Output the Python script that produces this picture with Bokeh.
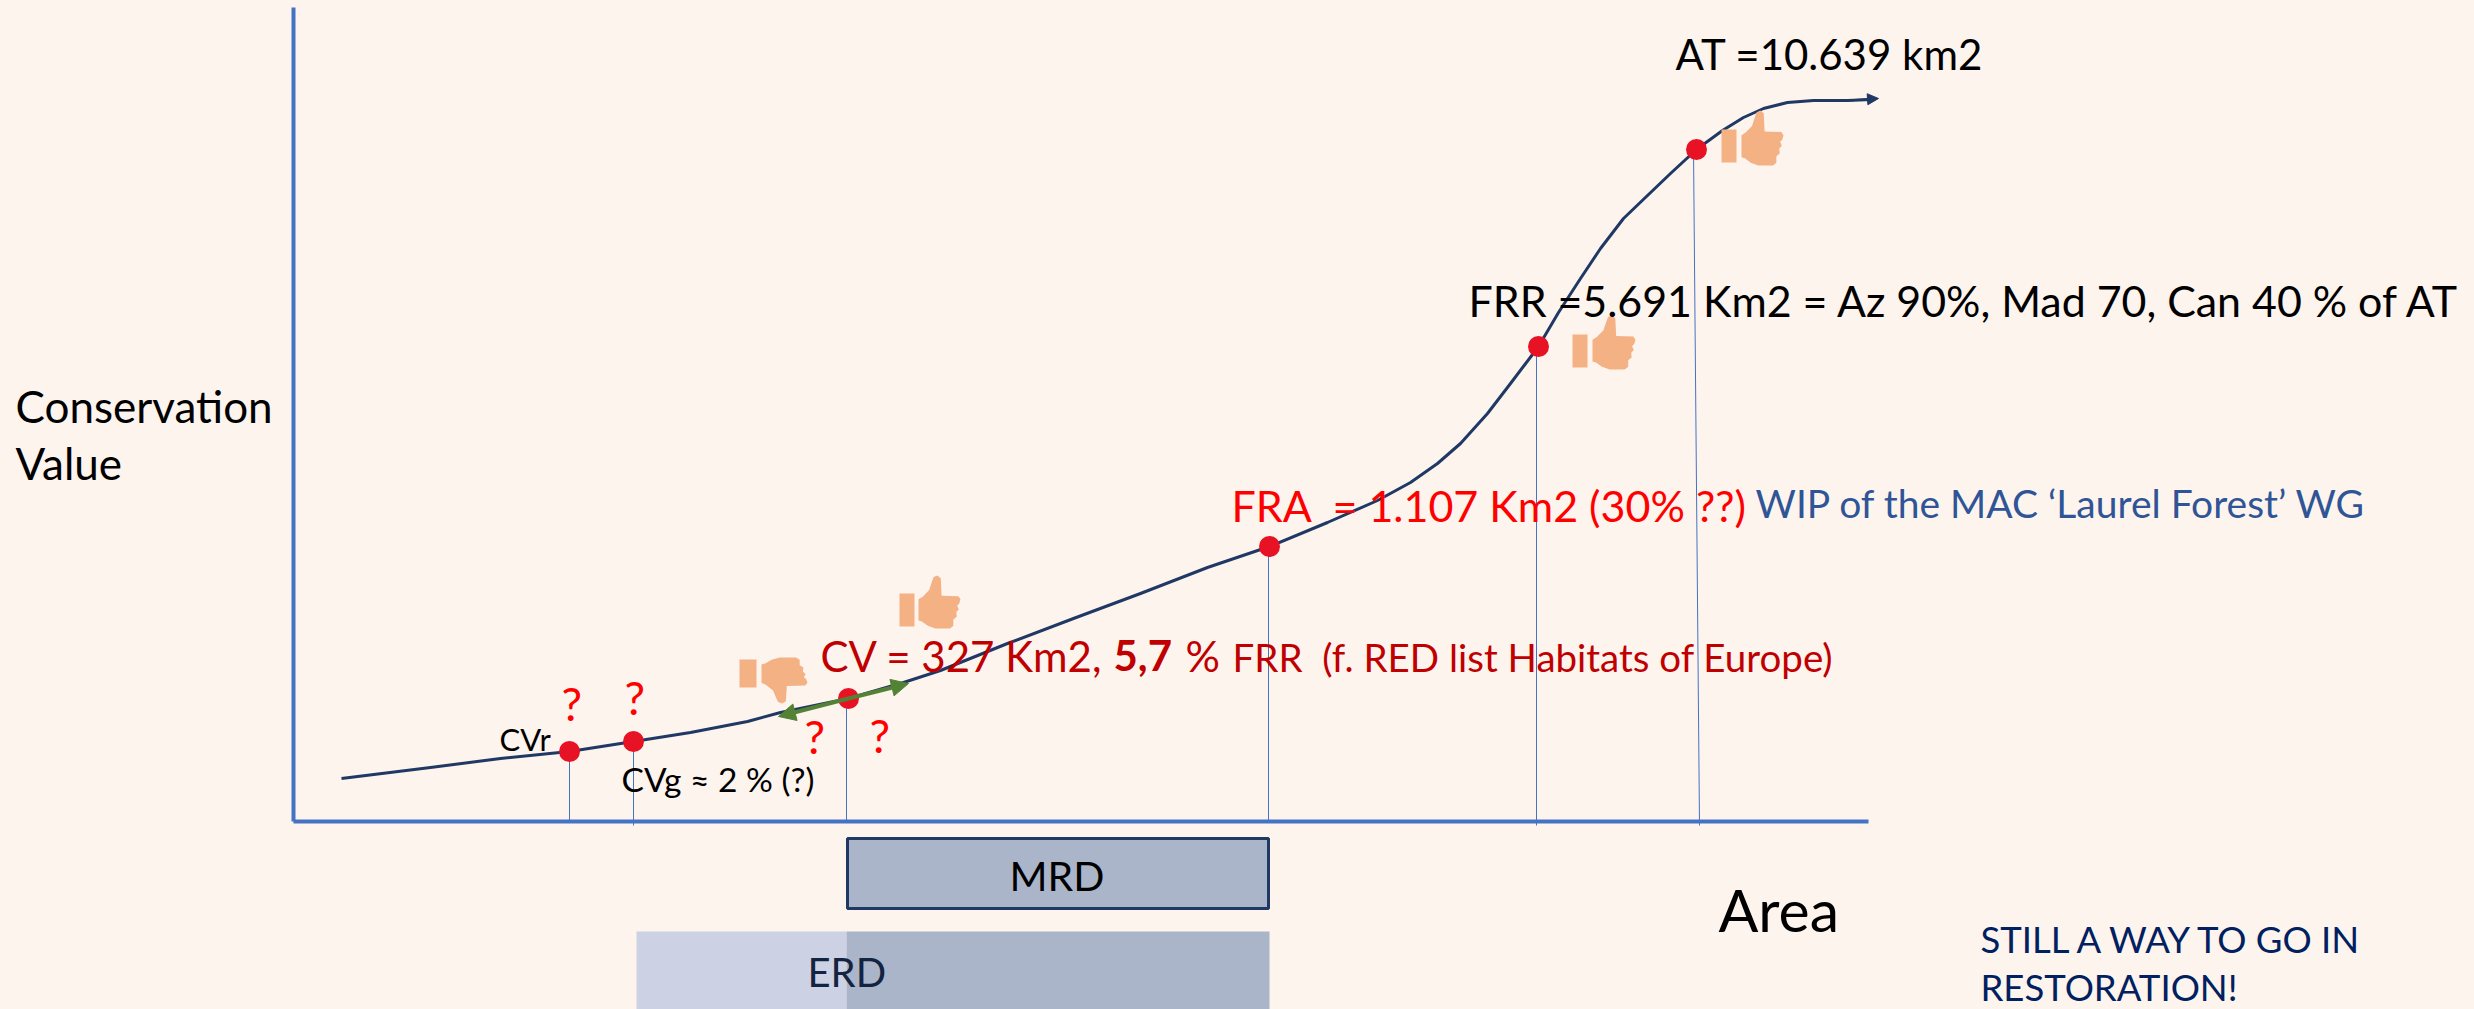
from bokeh.plotting import figure
from bokeh.models import Range1d, Arrow, NormalHead, FixedTicker
from bokeh.core.properties import value
from bokeh.embed import file_html
from bokeh.resources import INLINE

BG = "#FDF4EE"
W, H = 2474, 1009
X0, Y0 = 293, 821   # pixel of the axes origin

# schematic curve: area vs conservation value (arbitrary units)
curve_area = [48, 137, 207, 276, 340, 397, 454, 487, 555, 610, 647, 714, 780, 847, 914, 976, 1034, 1084, 1117, 1144,
              1167, 1194, 1217, 1245, 1265, 1287, 1307, 1330, 1354, 1377, 1403, 1429, 1450, 1470, 1494, 1520, 1554, 1578]
curve_value = [43, 54, 63, 70, 80, 89, 100, 109, 123, 139, 151, 178, 203, 228, 254, 275, 299, 321, 339, 358,
               378, 408, 438, 475, 509, 543, 573, 603, 626, 648, 672, 691, 704, 713, 719, 721, 721, 722]

point_area = [276, 340, 555, 976, 1245, 1403]
point_value = [70, 80, 123, 275, 475, 672]

drop_top_x = [276, 340, 553, 975, 1243, 1400]
drop_bottom_x = [276, 340, 553, 975, 1243, 1406]
drop_top_y = [70, 80, 123, 275, 475, 672]
drop_bottom_y = [0, -4, 0, 0, -4, -4]

bar_left = [554, 343, 553]
bar_right = [975, 553, 976]
bar_top = [-17, -110, -110]
bar_bottom = [-87, -188, -188]

labels = [
    ("Conservation", 15, 423, 44, "#000000", "normal"),
    ("Value", 15, 480, 44, "#000000", "normal"),
    ("AT =10.639 km2", 1675, 70, 42, "#000000", "normal"),
    ("FRR =5.691 Km2 = Az 90%, Mad 70, Can 40 % of AT", 1468, 317, 42.9, "#000000", "normal"),
    ("FRA \u00a0= 1.107 Km2 (30% ??)", 1231, 522, 43, "#FF0000", "normal"),
    ("WIP of the MAC \u2018Laurel Forest\u2019 WG", 1755, 518, 39, "#2F5597", "normal"),
    ("CV = 327 Km2,", 820, 672, 42, "#C00000", "normal"),
    ("5,7", 1113, 672, 42, "#C00000", "bold"),
    ("%", 1185, 672, 43, "#C00000", "normal"),
    ("FRR \u00a0(f. RED list Habitats of Europe)", 1232, 672, 38.5, "#C00000", "normal"),
    ("CVr", 499, 751, 31, "#000000", "normal"),
    ("CVg \u2248 2 % (?)", 621, 792, 33.5, "#000000", "normal"),
    ("?", 561, 721, 46, "#FF0000", "normal"),
    ("?", 624, 715, 46, "#FF0000", "normal"),
    ("?", 804, 754, 46, "#FF0000", "normal"),
    ("?", 869, 753, 46, "#FF0000", "normal"),
    ("MRD", 1009, 891, 41, "#000000", "normal"),
    ("ERD", 807, 987, 40, "#14233F", "normal"),
    ("Area", 1718, 933, 59, "#000000", "normal"),
    ("STILL A WAY TO GO IN", 1980, 953, 36.5, "#002060", "normal"),
    ("RESTORATION!", 1980, 1001, 36.5, "#002060", "normal"),
]

# (cuff left, cuff right, fist left, fist right, top, bottom, cuff top, cuff bottom)
thumbs = [
    (1721, 1736, 1741, 1783, 110, 165, 129, 162),
    (1572, 1587, 1592, 1635, 315, 369, 334, 367),
    (899, 914, 918, 960, 575, 628, 593, 626),
    (739, 756, 761, 807, 703, 657, 659, 687),
]
fist = [(0, .15), (0, .55), (.1, .6), (.25, .72), (.32, .88), (.36, .97), (.45, 1), (.53, .95), (.55, .62), (.95, .61),
        (1, .55), (.97, .47), (.92, .43), (.96, .36), (.9, .31), (.91, .22), (.83, .17), (.83, .05), (.75, 0),
        (.4, 0), (.22, .05), (.08, .13)]

px = lambda v: v - X0
py = lambda v: Y0 - v

p = figure(width=W, height=H, output_backend="svg", toolbar_location=None,
           x_range=Range1d(-X0, W - X0), y_range=Range1d(Y0 - H, Y0),
           background_fill_color=BG, border_fill_color=BG, min_border=0)
p.grid.visible = False
p.outline_line_color = None
for ax, bounds in ((p.xaxis, (0, 1575)), (p.yaxis, (0, 814))):
    ax.fixed_location = 0
    ax.bounds = bounds
    ax.ticker = FixedTicker(ticks=[])
    ax.axis_line_color = "#4472C4"
    ax.axis_line_width = 4
    ax.major_tick_line_color = None
    ax.minor_tick_line_color = None

p.segment(drop_top_x, drop_top_y, drop_bottom_x, drop_bottom_y, line_color="#4472C4", line_width=1)

p.quad(left=bar_left[1:], right=bar_right[1:], top=bar_top[1:], bottom=bar_bottom[1:],
       fill_color=["#CCD2E3", "#AAB5C9"], line_color=None)
p.quad(left=bar_left[:1], right=bar_right[:1], top=bar_top[:1], bottom=bar_bottom[:1],
       fill_color="#ABB5C9", line_color="#1F3864", line_width=3)

p.line(curve_area, curve_value, line_color="#1F3864", line_width=3, line_join="round")
p.add_layout(Arrow(end=NormalHead(size=11, fill_color="#1F3864", line_color="#1F3864"),
                   x_start=curve_area[-2], y_start=curve_value[-2], x_end=curve_area[-1] + 7, y_end=curve_value[-1] + 1,
                   line_color="#1F3864", line_width=2))

for tip_x, tip_y in ((485, 105), (615, 138)):
    p.add_layout(Arrow(end=NormalHead(size=17, fill_color="#548235", line_color="#548235"),
                       x_start=555, y_start=123, x_end=tip_x, y_end=tip_y,
                       line_color="#548235", line_width=4))

p.scatter(point_area, point_value, size=21, fill_color="#E81225", line_color=None)

xs, ys = [], []
for cl, cr, fl, fr, top, bot, ct, cb in thumbs:
    xs.append([px(fl + u * (fr - fl)) for u, v in fist])
    ys.append([py(bot + v * (top - bot)) for u, v in fist])
    xs.append([px(cl), px(cr), px(cr), px(cl)])
    ys.append([py(ct), py(ct), py(cb), py(cb)])
p.patches(xs, ys, fill_color="#F4B183", line_color=None)

for t, x, y, size, col, weight in labels:
    p.text([px(x)], [py(y)], text=[t], text_font=value("Lato"), text_font_size=f"{size}px",
           text_color=col, text_font_style=weight, text_baseline="alphabetic", text_align="left",
           y_offset=-0.4 * size)

html = file_html(p, INLINE)
html = html.replace("<head>", f"<head><style>html,body{{margin:0;padding:0;background:{BG};overflow:hidden}}</style>", 1)
open("out.html", "w").write(html)
